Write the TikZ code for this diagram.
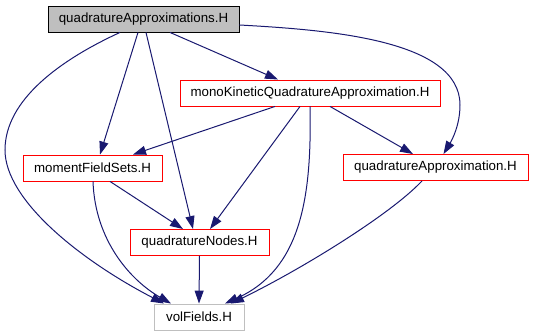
\documentclass[tikz,border=0pt]{standalone}
\usepackage{fontspec}
\setmainfont{Liberation Sans}
\usetikzlibrary{arrows.meta}
\definecolor{edgeblue}{RGB}{25,25,112}
\definecolor{boxred}{RGB}{255,0,0}
\definecolor{boxgray}{RGB}{191,191,191}
\begin{document}
\begin{tikzpicture}[x=1pt,y=-1pt,
  filebox/.style={draw=boxred, line width=0.9pt, fill=white, minimum height=26pt,
    inner sep=0pt, font=\fontsize{13.3}{15}\selectfont},
  rootbox/.style={filebox, draw=black, fill=boxgray},
  plainbox/.style={filebox, draw=boxgray},
  dep/.style={draw=edgeblue, line width=1pt,
    -{Triangle[length=13pt,width=9pt]}}]
\useasboundingbox (0,0) rectangle (533,336);

% header files
\node[rootbox,  minimum width=191pt] (qas)  at (143.5,19)  {quadratureApproximations.H};
\node[filebox,  minimum width=260pt] (mono) at (310,93)    {monoKineticQuadratureApproximation.H};
\node[filebox,  minimum width=139pt] (mfs)  at (92.5,168)  {momentFieldSets.H};
\node[filebox,  minimum width=185pt] (qa)   at (435.5,167.5) {quadratureApproximation.H};
\node[filebox,  minimum width=139pt] (qn)   at (199.5,242.5) {quadratureNodes.H};
\node[plainbox, minimum width=90pt]  (vf)   at (199,317)   {volFields.H};

% include dependencies
\draw[dep] ([xshift=-23.5pt]qas.south) .. controls (60,60) and (5,100) .. (5,150)
  .. controls (5,200) and (80,260) .. ([xshift=-35pt]vf.north);
\draw[dep] ([xshift=-5.5pt]qas.south) -- ([xshift=7.5pt]mfs.north);
\draw[dep] ([xshift=2.5pt]qas.south) -- ([xshift=-6.5pt]qn.north);
\draw[dep] ([xshift=26.5pt]qas.south) -- ([xshift=-32pt]mono.north);
\draw[dep] ([yshift=-6pt]qas.east) .. controls (330,30) and (460,40) .. (460,105)
  .. controls (460,125) and (452,140) .. ([xshift=8pt]qa.north);

\draw[dep] ([xshift=-35pt]mono.south) -- ([xshift=40.5pt]mfs.north);
\draw[dep] ([xshift=-10pt]mono.south) -- ([xshift=10.5pt]qn.north);
\draw[dep] (mono.south) .. controls (312,200) and (300,270) .. ([xshift=26pt]vf.north);
\draw[dep] ([xshift=20pt]mono.south) -- ([xshift=-22.5pt]qa.north);

\draw[dep] ([xshift=0.5pt]mfs.south) .. controls (95,240) and (130,280) .. ([xshift=-28pt]vf.north);
\draw[dep] ([xshift=17.5pt]mfs.south) -- ([xshift=-16.5pt]qn.north);

\draw[dep] (qn.south) -- (vf.north);
\draw[dep] ([xshift=-13.5pt]qa.south) .. controls (390,215) and (300,270) .. ([xshift=32pt]vf.north);
\end{tikzpicture}
\end{document}
